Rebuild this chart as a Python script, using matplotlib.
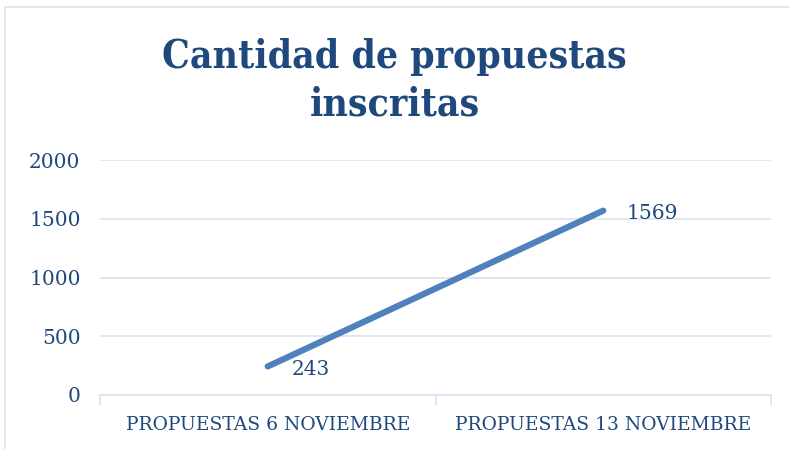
#!/usr/bin/env python3

import matplotlib.pyplot as plt
from matplotlib.patches import Rectangle

# Data
categories = ["PROPUESTAS 6 NOVIEMBRE", "PROPUESTAS 13 NOVIEMBRE"]
values = [243, 1569]
y_ticks = [0, 500, 1000, 1500, 2000]

TEXT_COLOR = "#1F497D"
LINE_COLOR = "#4F81BD"
GRID_COLOR = "#D9E3F1"
SERIF = ["DejaVu Serif", "Liberation Serif"]


def main():
    fig = plt.figure(figsize=(7.89, 4.49), dpi=100)
    ax = fig.add_axes([100 / 789, 54 / 449, 671 / 789, 235 / 449])

    # outer chart frame
    fig.patches.append(Rectangle((5 / 789, -0.01), 1.0, (442 / 449) + 0.01,
                                 transform=fig.transFigure, fill=False,
                                 edgecolor=GRID_COLOR, linewidth=1.2))

    x = [0.5, 1.5]
    ax.plot(x, values, color=LINE_COLOR, linewidth=4.5,
            solid_capstyle="round", zorder=3)

    for xi, v in zip(x, values):
        ax.annotate(str(v), (xi, v), xytext=(17, -2), textcoords="offset points",
                    ha="left", va="center", fontsize=14.5, color=TEXT_COLOR,
                    family=SERIF)

    ax.set_xlim(0, 2)
    ax.set_ylim(0, 2000)
    ax.set_yticks(y_ticks)
    ax.set_yticklabels([str(t) for t in y_ticks], family=SERIF, fontsize=14.5,
                       color=TEXT_COLOR)

    # category labels centred, tick marks at the boundaries
    ax.set_xticks([0, 1, 2])
    ax.set_xticklabels([])
    ax.set_xticks(x, minor=True)
    ax.set_xticklabels(categories, minor=True, family=SERIF, fontsize=13.5,
                       color=TEXT_COLOR)
    ax.tick_params(axis="x", which="major", length=7, color=GRID_COLOR, width=1.2)
    ax.tick_params(axis="x", which="minor", length=0, pad=15)
    ax.tick_params(axis="y", length=0, pad=14)

    ax.grid(axis="y", color=GRID_COLOR, linewidth=1.2)
    ax.set_axisbelow(True)
    for side in ["top", "right", "left"]:
        ax.spines[side].set_visible(False)
    ax.spines["bottom"].set_color(GRID_COLOR)
    ax.spines["bottom"].set_linewidth(1.2)

    fig.text(0.5, 0.82, "Cantidad de propuestas\ninscritas", ha="center",
             va="center", fontsize=28, fontweight="bold", color=TEXT_COLOR,
             family=SERIF, fontstretch="condensed", linespacing=1.3)

    fig.savefig("out.png", dpi=100)


if __name__ == "__main__":
    main()
